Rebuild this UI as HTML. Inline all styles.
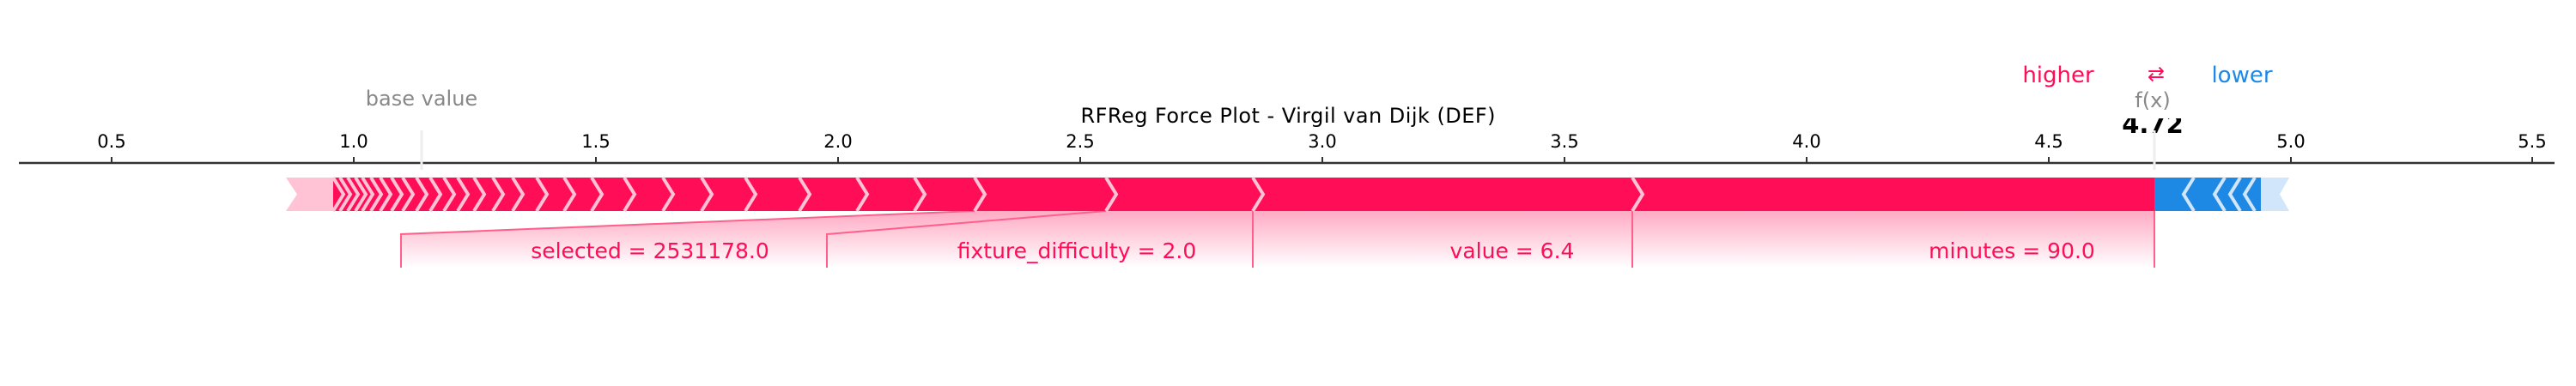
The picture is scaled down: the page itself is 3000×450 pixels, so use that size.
<!DOCTYPE html>
<html><head><meta charset="utf-8"><style>
html,body{margin:0;padding:0;background:#fff;}
svg{display:block;font-family:"DejaVu Sans","Liberation Sans",sans-serif;}
</style></head><body>
<svg width="3000" height="450" viewBox="0 0 3000 450" xmlns="http://www.w3.org/2000/svg">
<defs>
<linearGradient id="g" x1="0" y1="0" x2="0" y2="1">
<stop offset="0" stop-color="#ff0d57" stop-opacity="0.35"/>
<stop offset="1" stop-color="#ff0d57" stop-opacity="0"/>
</linearGradient>
</defs>
<polygon points="467,273 1135,246 1288,246 963,273 963,312 467,312" fill="url(#g)"/>
<polygon points="963,273 1288,246 1459,246 1459,312 963,312" fill="url(#g)"/>
<polygon points="1459,246 1901,246 1901,312 1459,312" fill="url(#g)"/>
<polygon points="1901,246 2509,246 2509,312 1901,312" fill="url(#g)"/>
<g stroke="#ff5f8a" stroke-width="2" fill="none">
<polyline points="467,312 467,273 1135,246"/>
<polyline points="963,312 963,273 1288,246"/>
<line x1="1459" y1="246" x2="1459" y2="312"/>
<line x1="1901" y1="246" x2="1901" y2="312"/>
<line x1="2509" y1="246" x2="2509" y2="312"/>
</g>
<line x1="22" y1="190" x2="2975" y2="190" stroke="#333" stroke-width="2.5"/>
<g stroke="#333" stroke-width="2">
<line x1="130" y1="183" x2="130" y2="190"/><line x1="412" y1="183" x2="412" y2="190"/>
<line x1="694" y1="183" x2="694" y2="190"/><line x1="976" y1="183" x2="976" y2="190"/>
<line x1="1258" y1="183" x2="1258" y2="190"/><line x1="1540" y1="183" x2="1540" y2="190"/>
<line x1="1822" y1="183" x2="1822" y2="190"/><line x1="2104" y1="183" x2="2104" y2="190"/>
<line x1="2386" y1="183" x2="2386" y2="190"/><line x1="2668" y1="183" x2="2668" y2="190"/>
<line x1="2949" y1="183" x2="2949" y2="190"/>
</g>
<g font-size="21" fill="#000" text-anchor="middle">
<text x="130" y="172">0.5</text><text x="412" y="172">1.0</text><text x="694" y="172">1.5</text>
<text x="976" y="172">2.0</text><text x="1258" y="172">2.5</text><text x="1540" y="172">3.0</text>
<text x="1822" y="172">3.5</text><text x="2104" y="172">4.0</text><text x="2386" y="172">4.5</text>
<text x="2668" y="172">5.0</text><text x="2949" y="172">5.5</text>
</g>
<line x1="491" y1="152" x2="491" y2="198" stroke="#eee" stroke-width="3"/>
<text x="491" y="123" font-size="24" fill="#888" text-anchor="middle">base value</text>
<text x="1500" y="143" font-size="24" fill="#000" text-anchor="middle" textLength="483">RFReg Force Plot - Virgil van Dijk (DEF)</text>
<text x="2507" y="155" font-size="29" font-weight="bold" fill="#000" text-anchor="middle">4.72</text>
<rect x="2460" y="100" width="100" height="38" fill="#fff"/>
<line x1="2509" y1="152" x2="2509" y2="198" stroke="#eee" stroke-width="3"/>
<text x="2507" y="125" font-size="24" fill="#888" text-anchor="middle">f(x)</text>
<text x="2397" y="96" font-size="26" fill="#ff0d57" text-anchor="middle">higher</text>
<text x="2511" y="94" font-size="24" fill="#ff0d57" text-anchor="middle">⇄</text>
<text x="2611" y="96" font-size="26" fill="#1e88e5" text-anchor="middle">lower</text>
<polygon points="333,207 390,207 390,246 333,246 346,226.5" fill="#ffc3d5"/>
<rect x="388" y="207" width="2121" height="39" fill="#ff0d57"/>
<rect x="2509" y="207" width="126" height="39" fill="#1e88e5"/>
<polygon points="2633,207 2666,207 2655,226.5 2666,246 2633,246" fill="#d1e6fa"/>
<g stroke="#ffc3d5" stroke-width="4" fill="none">
<polyline points="388,207 400,226.5 388,246"/><polyline points="396,207 408,226.5 396,246"/>
<polyline points="405,207 417,226.5 405,246"/><polyline points="414,207 426,226.5 414,246"/>
<polyline points="422,207 434,226.5 422,246"/><polyline points="432,207 444,226.5 432,246"/>
<polyline points="443,207 455,226.5 443,246"/><polyline points="456,207 468,226.5 456,246"/>
<polyline points="469,207 481,226.5 469,246"/><polyline points="485,207 497,226.5 485,246"/>
<polyline points="501,207 513,226.5 501,246"/><polyline points="517,207 529,226.5 517,246"/>
<polyline points="533,207 545,226.5 533,246"/><polyline points="552,207 564,226.5 552,246"/>
<polyline points="574,207 586,226.5 574,246"/><polyline points="597,207 609,226.5 597,246"/>
<polyline points="625,207 637,226.5 625,246"/><polyline points="657,207 669,226.5 657,246"/>
<polyline points="689,207 701,226.5 689,246"/><polyline points="727,207 739,226.5 727,246"/>
<polyline points="772,207 784,226.5 772,246"/><polyline points="817,207 829,226.5 817,246"/>
<polyline points="868,207 880,226.5 868,246"/><polyline points="931,207 943,226.5 931,246"/>
<polyline points="998,207 1010,226.5 998,246"/><polyline points="1065,207 1077,226.5 1065,246"/>
<polyline points="1135,207 1147,226.5 1135,246"/><polyline points="1288,207 1300,226.5 1288,246"/>
<polyline points="1459,207 1471,226.5 1459,246"/><polyline points="1901,207 1913,226.5 1901,246"/>
</g>
<g stroke="#d1e6fa" stroke-width="4" fill="none">
<polyline points="2555,207 2543,226.5 2555,246"/><polyline points="2591,207 2579,226.5 2591,246"/>
<polyline points="2609,207 2597,226.5 2609,246"/><polyline points="2626,207 2614,226.5 2626,246"/>
</g>
<g font-size="25" fill="#ff0d57" text-anchor="middle">
<text x="757" y="301">selected = 2531178.0</text>
<text x="1254" y="301">fixture_difficulty = 2.0</text>
<text x="1761" y="301">value = 6.4</text>
<text x="2343" y="301">minutes = 90.0</text>
</g>
</svg>
</body></html>
